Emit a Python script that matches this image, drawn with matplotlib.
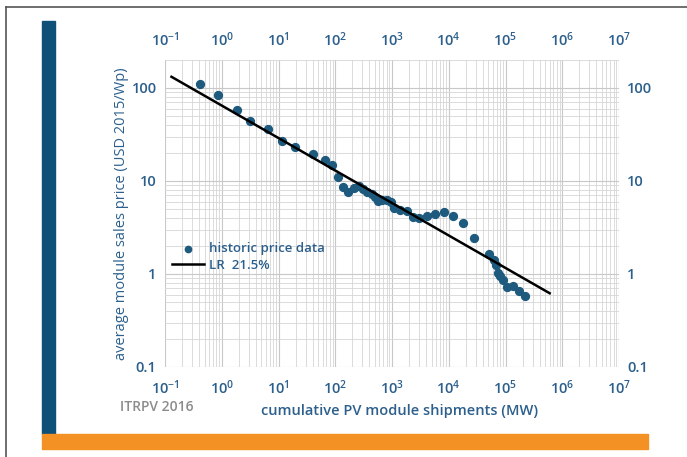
import numpy as np
import matplotlib
matplotlib.use('Agg')
import matplotlib.pyplot as plt
from matplotlib.patches import Rectangle
from matplotlib.lines import Line2D
from matplotlib.ticker import LogLocator, FixedLocator, NullFormatter

plt.rcParams['font.family'] = ['Open Sans', 'DejaVu Sans']
plt.rcParams['font.weight'] = 'semibold'
plt.rcParams['mathtext.fontset'] = 'custom'
plt.rcParams['mathtext.rm'] = 'Open Sans:semibold'
plt.rcParams['mathtext.it'] = 'Open Sans:semibold'

# historic module prices vs. cumulative shipments
shipments_mw = [0.41, 0.85, 1.83, 3.2, 6.5, 11.5, 19.8, 41, 65, 88,
                110, 139, 170, 214, 259, 312, 367, 439, 501, 574,
                658, 807, 960, 1100, 1380, 1820, 2320, 3030, 4090, 5790,
                8240, 11700, 18000, 28200, 51800, 62700, 67100, 72900, 80000, 89300,
                105000, 137000, 175000, 221000]
price_usd = [110, 84, 58, 44, 36, 27, 23, 19.4, 16.8, 15,
             11.1, 8.7, 7.7, 8.5, 8.9, 8.3, 7.6, 7.3, 6.8, 6.1,
             6.2, 6.3, 6.0, 5.1, 4.9, 4.8, 4.1, 4.0, 4.2, 4.4,
             4.6, 4.2, 3.55, 2.44, 1.63, 1.43, 1.25, 1.02, 0.94, 0.87,
             0.72, 0.75, 0.65, 0.58]

# learning rate line
learning_rate = 0.215
lr_anchor = (1000, 5.8)
lr_span = (0.13, 6.0e5)

x_ticks = [1e-1, 1e0, 1e1, 1e2, 1e3, 1e4, 1e5, 1e6, 1e7]
x_tick_labels = [r'$10^{-1}$', r'$10^{0}$', r'$10^{1}$', r'$10^{2}$', r'$10^{3}$',
                 r'$10^{4}$', r'$10^{5}$', r'$10^{6}$', r'$10^{7}$']
y_ticks = [0.1, 1, 10, 100]
y_tick_labels = ['0.1', '1', '10', '100']

BLUE_TXT = '#2c5f8c'
DOT = '#1d5a7e'
GRID = '#d6d6d6'

W, H = 687, 457
fig = plt.figure(figsize=(W / 100, H / 100), dpi=100)

# page decoration: thin frame, blue side bar, orange foot bar
fig.add_artist(Line2D([6 / W, 6 / W], [0, 1 - 7 / H], color='#555555', lw=1.2))
fig.add_artist(Line2D([6 / W, 1], [1 - 7 / H, 1 - 7 / H], color='#555555', lw=1.2))
fig.patches.append(Rectangle((42 / W, 1 - 434 / H), 13 / W, 413 / H,
                             transform=fig.transFigure, color='#0f5078', zorder=1))
fig.patches.append(Rectangle((42 / W, 1 - 449 / H), 606 / W, 15 / H,
                             transform=fig.transFigure, color='#f39124', zorder=1))

ax = fig.add_axes([165 / W, 1 - 367 / H, 454 / W, 307 / H])
ax.set_xscale('log')
ax.set_yscale('log')
ax.set_xlim(1e-1, 1e7)
ax.set_ylim(0.1, 200)

ax.xaxis.set_major_locator(FixedLocator(x_ticks))
ax.xaxis.set_minor_locator(LogLocator(base=10, subs=np.arange(2, 10)))
ax.yaxis.set_major_locator(FixedLocator(y_ticks))
ax.yaxis.set_minor_locator(LogLocator(base=10, subs=np.arange(2, 10)))
ax.xaxis.set_minor_formatter(NullFormatter())
ax.yaxis.set_minor_formatter(NullFormatter())
ax.set_xticks(x_ticks, x_tick_labels)
ax.set_yticks(y_ticks, y_tick_labels)

ax.grid(which='major', color='#c8c8c8', lw=0.8)
ax.grid(which='minor', color=GRID, lw=0.6)
ax.set_axisbelow(True)
for s in ax.spines.values():
    s.set_visible(False)

ax.tick_params(which='both', length=0)
ax.tick_params(axis='x', which='major', labelsize=10.5, labelcolor=BLUE_TXT, pad=8,
               top=True, labeltop=True)
ax.tick_params(axis='y', which='major', labelsize=10.5, labelcolor=BLUE_TXT, pad=6,
               right=True, labelright=True)

ax.scatter(shipments_mw, price_usd, s=32, color=DOT, zorder=3,
           label='historic price data')

b = -np.log2(1 - learning_rate)
xl = np.array(lr_span)
yl = lr_anchor[1] * (xl / lr_anchor[0]) ** (-b)
ax.plot(xl, yl, color='black', lw=1.8, zorder=4,
        label='LR  %.1f%%' % (learning_rate * 100))

leg = ax.legend(loc='upper left', bbox_to_anchor=(-0.01, 0.445), frameon=False,
                fontsize=9.5, handlelength=2.4, handletextpad=0.4,
                labelspacing=0.25, markerscale=0.8)
for t in leg.get_texts():
    t.set_color(BLUE_TXT)

ax.set_ylabel('average module sales price (USD 2015/Wp)', color=BLUE_TXT,
              fontsize=10.5, labelpad=2)
fig.text(400 / W, 1 - 411 / H, 'cumulative PV module shipments (MW)',
         color=BLUE_TXT, fontsize=10.5, ha='center', va='center')
fig.text(120 / W, 1 - 407 / H, 'ITRPV 2016', color='#8c8c8c',
         fontsize=10, ha='left', va='center')

fig.savefig('out.png', dpi=100)
